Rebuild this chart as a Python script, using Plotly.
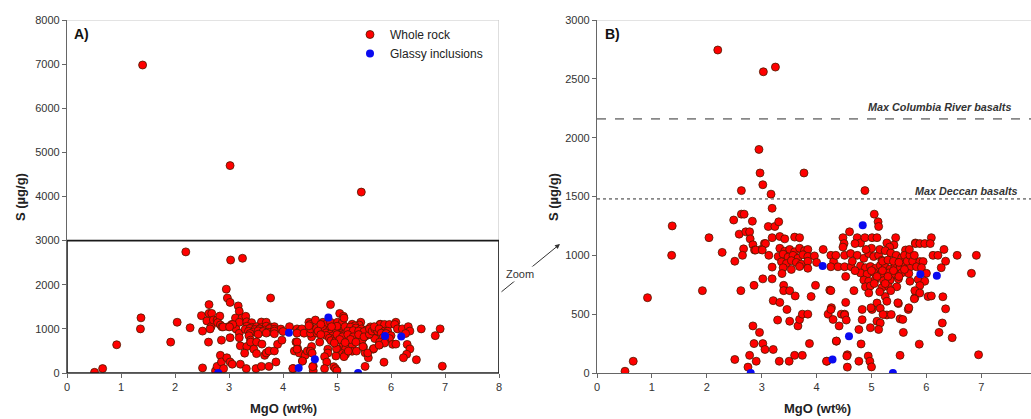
import plotly.graph_objects as go

W, H = 1031, 419

# ---------------- data ----------------
whole_mgo = [
    0.51, 0.66, 0.92, 1.36, 1.37, 1.40, 1.92, 2.04, 2.20, 2.28, 2.51, 2.49, 2.51, 2.63, 2.59, 2.62, 2.63, 2.68,
    2.67, 2.65, 2.71, 2.78, 2.83, 2.79, 2.84, 2.87, 2.86, 2.75, 2.78, 2.84, 2.86, 2.90, 2.96, 2.95, 2.97,
    3.02, 3.03, 3.02, 3.25, 3.02, 3.06, 3.02, 2.99, 3.05, 3.17, 3.19, 3.12, 3.24, 3.31, 3.13, 3.19, 3.19,
    3.21, 3.33, 3.21, 3.29, 3.32, 3.19, 3.33, 3.42, 3.60, 3.69, 3.33, 3.42, 3.51, 3.60, 3.69, 3.78, 3.84,
    3.30, 3.39, 3.48, 3.57, 3.66, 3.75, 3.84, 3.96, 3.36, 3.45, 3.54, 3.63, 3.72, 3.84, 4.00, 3.39, 3.54,
    3.69, 3.84, 3.37, 3.40, 3.40, 3.51, 3.61, 3.46, 3.51, 3.66, 3.69, 3.74, 3.84, 3.50, 3.60, 3.74, 3.87,
    3.90, 3.98, 3.77, 3.07, 2.89, 3.01,
    4.12, 4.19, 4.21, 4.24, 4.27, 4.30, 4.36, 4.41, 4.45, 4.51, 4.53, 4.53, 4.56, 4.56, 4.26, 4.31, 4.35,
    4.26, 4.39, 4.51, 4.63, 4.51, 4.62, 4.48, 4.50, 4.48, 4.60, 4.74, 4.80, 4.88, 5.01, 5.10, 5.28, 5.44,
    5.41, 5.33, 5.62, 5.80, 4.74, 4.86, 4.95, 5.04, 5.13, 5.19, 4.80, 4.89, 4.98, 5.07, 5.16, 5.25, 5.34,
    5.43, 5.52, 5.61, 5.70, 4.80, 4.92, 5.04, 5.19, 5.31, 5.43, 5.55, 5.68, 4.86, 4.95, 5.07, 5.22, 5.34,
    5.49, 5.70, 4.89, 4.98, 5.19, 5.31, 5.46, 4.68, 4.26, 5.25, 5.28, 5.10, 5.16, 5.01, 5.28, 5.49, 5.67,
    4.83, 4.83, 4.51, 4.54, 5.10, 5.16, 5.13, 4.98, 4.77, 5.52, 5.58, 4.26, 4.36, 4.81, 4.55, 4.77, 4.94,
    4.97, 5.00, 5.52, 4.18, 4.88, 5.05, 5.12, 5.13, 5.45, 5.21, 5.36, 5.48, 5.57, 5.68, 5.79, 4.99,
    5.00, 5.15, 5.25, 5.35, 5.45, 5.55, 5.20, 5.30, 5.40, 5.50, 5.00, 5.10, 5.20, 5.30, 5.40, 5.50, 5.60,
    5.05, 5.25, 5.35, 4.95, 5.15, 4.90, 4.70, 4.65, 4.70, 5.60, 5.65, 5.70, 5.75,
    6.09, 5.80, 5.88, 5.97, 6.07, 5.69, 5.78, 6.12, 6.21, 6.32, 6.56, 6.91, 6.35, 6.27, 5.88, 5.94, 5.82,
    5.91, 6.00, 5.85, 5.97, 5.88, 5.79, 5.88, 6.03, 6.09, 6.30, 6.35, 6.29, 5.78, 6.23, 6.47, 5.87, 6.95,
    6.82,
]
whole_s = [
    15, 100, 640, 1000, 1250, 6980, 700, 1150, 2745, 1025, 115, 1300, 950, 1550, 1180, 700, 1350, 1350,
    1055, 1000, 1200, 1200, 1290, 1140, 1090, 1045, 745, 50, 150, 400, 250, 100, 345, 1900, 1700,
    1600, 2560, 4700, 2600, 250, 200, 800, 1050, 1100, 1520, 1400, 1245, 1245, 1285, 1000, 900, 800,
    615, 600, 200, 450, 100, 1150, 1160, 1140, 1155, 1150, 1060, 1035, 1050, 1030, 1060, 1040, 1050,
    990, 1010, 985, 1000, 975, 1005, 990, 995, 945, 930, 955, 940, 925, 950, 940, 895, 880,
    905, 890, 845, 745, 700, 700, 655, 540, 440, 400, 455, 500, 500, 100, 150, 150, 250,
    650, 745, 1700, 1100, 1045, 1045,
    1050, 100, 500, 705, 555, 455, 270, 400, 500, 500, 600, 820, 155, 50, 1000, 947, 1000,
    903, 903, 903, 903, 1000, 1015, 1150, 1100, 1070, 1200, 1150, 1105, 1150, 1150, 1150, 1105, 1150,
    1088, 1070, 1045, 1105, 1000, 975, 1015, 990, 1000, 958, 910, 895, 905, 890, 915, 900, 885,
    905, 895, 910, 900, 850, 840, 855, 845, 850, 835, 850, 845, 790, 780, 795, 785, 790,
    800, 780, 733, 740, 725, 735, 733, 700, 700, 650, 610, 595, 550, 540, 493, 590, 540,
    540, 453, 493, 450, 440, 425, 370, 385, 370, 460, 345, 540, 272, 247, 144, 100, 144,
    100, 52, 150, 100, 1550, 1350, 1285, 1245, 4100, 497, 497, 597, 455, 554, 639, 554,
    1060, 1050, 1040, 1020, 1000, 980, 950, 960, 950, 940, 870, 820, 870, 820, 870, 820, 880,
    760, 760, 700, 680, 690, 1050, 1100, 950, 870, 1000, 950, 1000, 950,
    1150, 1100, 1100, 1100, 1100, 1050, 1000, 1000, 1000, 1050, 1000, 1000, 950, 895, 947, 947, 903,
    895, 847, 795, 780, 743, 700, 680, 650, 655, 648, 545, 425, 630, 345, 300, 245, 155,
    847,
]
glass_mgo = [2.80, 4.11, 4.29, 4.59, 4.84, 5.39, 5.89, 6.19]
glass_s = [0, 910, 114, 312, 1255, 0, 840, 827]

columbia_max = 2160
deccan_max = 1480

# ---------------- layout helpers ----------------
def px(x):
    return x / W

def py(y):
    return 1 - y / H

FONT = "Arial, Liberation Sans, sans-serif"
RED = "#ff0000"
EDGE = "#4a1c00"
BLUE = "#0a0af0"

fig = go.Figure()

for xa, ya, show in (("x", "y", True), ("x2", "y2", False)):
    fig.add_trace(go.Scatter(
        x=whole_mgo, y=whole_s, mode="markers", name="Whole rock",
        marker=dict(color=RED, size=8, line=dict(color=EDGE, width=0.8)),
        xaxis=xa, yaxis=ya, showlegend=show))
    fig.add_trace(go.Scatter(
        x=glass_mgo, y=glass_s, mode="markers", name="Glassy inclusions",
        marker=dict(color=BLUE, size=8, line=dict(color=BLUE, width=0)),
        xaxis=xa, yaxis=ya, showlegend=show))

axis_common = dict(
    showgrid=False, zeroline=False, showline=True, linecolor="#666666", linewidth=1.2,
    ticks="outside", ticklen=4, tickcolor="#666666", automargin=False,
    tickfont=dict(family=FONT, size=11, color="#333333"),
)

fig.update_layout(
    width=W, height=H, margin=dict(l=0, r=0, t=0, b=0, autoexpand=False),
    paper_bgcolor="white", plot_bgcolor="white",
    font=dict(family=FONT, color="#222222"),
    xaxis=dict(domain=[px(67), px(499)], range=[0, 8], dtick=1, anchor="y", **axis_common),
    yaxis=dict(domain=[py(373), py(20)], range=[0, 8000], dtick=1000, anchor="x", **axis_common),
    xaxis2=dict(domain=[px(597), 1.0], range=[0, (W - 597) / 54.9], tickvals=[0, 1, 2, 3, 4, 5, 6, 7],
                anchor="y2", **axis_common),
    yaxis2=dict(domain=[py(373), py(20)], range=[0, 3000], dtick=500, anchor="x2", **axis_common),
    legend=dict(x=px(350), y=py(20), xanchor="left", yanchor="top", bgcolor="rgba(0,0,0,0)",
                font=dict(family=FONT, size=12, color="#222222"), itemwidth=30,
                tracegroupgap=0),
    showlegend=True,
)

shapes = [
    # panel A grey frame (top and right)
    dict(type="line", xref="x", yref="y", x0=0, x1=8, y0=8000, y1=8000, line=dict(color="#c8c8c8", width=1.2)),
    dict(type="line", xref="x", yref="y", x0=8, x1=8, y0=0, y1=8000, line=dict(color="#c8c8c8", width=1.2)),
    # zoom box
    dict(type="rect", xref="x", yref="y", x0=0, x1=8, y0=0, y1=3000, line=dict(color="#1a1a1a", width=1.6)),
    # panel B top frame
    dict(type="line", xref="x2 domain", yref="y2", x0=0, x1=1, y0=3000, y1=3000, line=dict(color="#c8c8c8", width=1.2)),
    # reference lines
    dict(type="line", xref="x2 domain", yref="y2", x0=0, x1=1, y0=columbia_max, y1=columbia_max,
         line=dict(color="#888888", width=1.6, dash="dash")),
    dict(type="line", xref="x2 domain", yref="y2", x0=0, x1=1, y0=deccan_max, y1=deccan_max,
         line=dict(color="#888888", width=1.6, dash="dot")),
]
fig.update_layout(shapes=shapes)

ann = []
# panel labels
ann.append(dict(text="<b>A)</b>", x=px(72), y=py(34), xref="paper", yref="paper", xanchor="left",
                yanchor="middle", showarrow=False, font=dict(family=FONT, size=14, color="#111111")))
ann.append(dict(text="<b>B)</b>", x=px(603), y=py(34), xref="paper", yref="paper", xanchor="left",
                yanchor="middle", showarrow=False, font=dict(family=FONT, size=14, color="#111111")))
# axis titles
for cx in (283, 817):
    ann.append(dict(text="<b>MgO (wt%)</b>", x=px(cx), y=py(408), xref="paper", yref="paper",
                    xanchor="center", yanchor="middle", showarrow=False,
                    font=dict(family=FONT, size=13, color="#222222")))
for cx in (20, 553):
    ann.append(dict(text="<b>S (µg/g)</b>", x=px(cx), y=py(197), xref="paper", yref="paper",
                    xanchor="center", yanchor="middle", showarrow=False, textangle=-90,
                    font=dict(family=FONT, size=13, color="#222222")))
# reference line labels
ann.append(dict(text="<b><i>Max Columbia River basalts</i></b>", x=px(1013), y=py(107), xref="paper",
                yref="paper", xanchor="right", yanchor="middle", showarrow=False,
                font=dict(family=FONT, size=10.8, color="#333333")))
ann.append(dict(text="<b><i>Max Deccan basalts</i></b>", x=px(1020), y=py(191), xref="paper",
                yref="paper", xanchor="right", yanchor="middle", showarrow=False,
                font=dict(family=FONT, size=10.8, color="#333333")))
# zoom arrow
ann.append(dict(text="", x=px(560), y=py(244), xref="paper", yref="paper", ax=-60, ay=49,
                showarrow=True, arrowhead=2, arrowsize=1, arrowwidth=1, arrowcolor="#333333"))
ann.append(dict(text="Zoom", x=px(520), y=py(274), xref="paper", yref="paper", xanchor="center",
                yanchor="middle", showarrow=False, bgcolor="white",
                font=dict(family=FONT, size=11, color="#333333")))
fig.update_layout(annotations=ann)

fig.write_html("out.html", config={"displayModeBar": False},
               post_script="document.body.style.margin='0';document.body.style.overflow='hidden';")
